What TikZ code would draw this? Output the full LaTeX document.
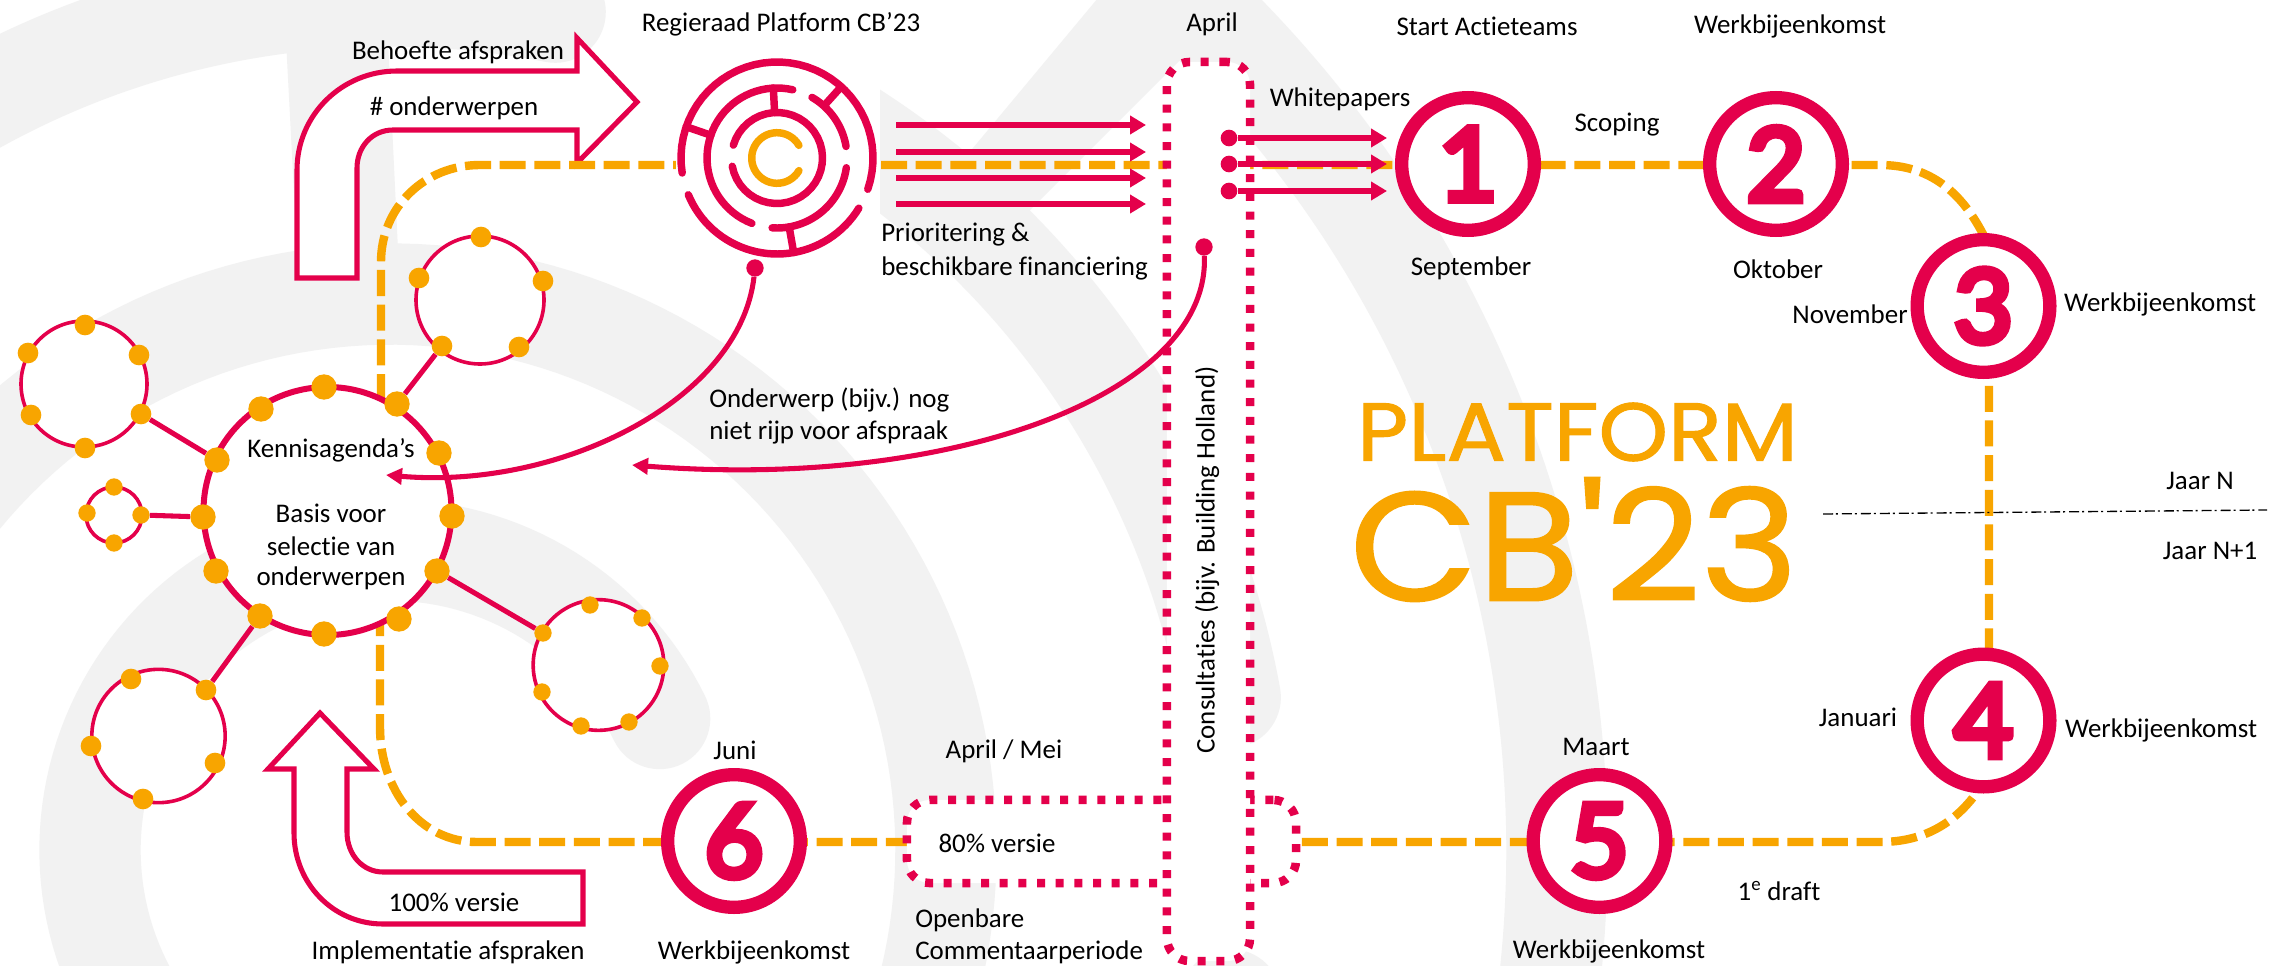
\documentclass[tikz,border=0pt]{standalone}
\usepackage{fontspec}
\setmainfont{Carlito}[Ligatures=NoCommon]
\newfontfamily\logofont[FakeBold=1.2]{Poppins}
\newfontfamily\numfont[FakeBold=7]{Lato}
\usetikzlibrary{arrows.meta}
\definecolor{cbred}{HTML}{E4004B}
\definecolor{cborange}{HTML}{F8A500}
\definecolor{cbgray}{HTML}{F2F2F2}
\newcommand{\bandarc}[3]{\draw[#3] plot[domain=#1,samples=90] ({390+#2*cos(\x)},{850-#2*sin(\x)});}
\newcommand{\mazearc}[3]{\draw[mazeline] plot[domain=#1:#2,samples=40] ({777+#3*cos(\x)},{158-#3*sin(\x)});}
\newcommand{\mazespoke}[3]{\draw[mazeline] ({777+#2*cos(#1)},{158-#2*sin(#1)}) -- ({777+#3*cos(#1)},{158-#3*sin(#1)});}
\tikzset{
  x=0.75pt,y=-0.75pt,
  band/.style={draw=cbgray,line width=76pt},
  mazeline/.style={draw=cbred,line width=5.6pt,line cap=round},
  orangeline/.style={draw=cborange,line width=6.3pt,dash pattern=on 19.5pt off 6.5pt},
  lbl/.style={inner sep=0pt,font=\fontsize{20.2}{24}\selectfont},
  arrowbox/.style={draw=cbred,fill=white,line width=3.8pt,miter limit=10},
  stepring/.style={circle,draw=cbred,fill=white,line width=10pt,minimum size=99.5pt,inner sep=0pt,text=cbred,font=\numfont\fontsize{76}{76}\selectfont},
  hubring/.style={circle,draw=cbred,fill=white,line width=4.5pt,inner sep=0pt},
  subring/.style={circle,draw=cbred,fill=white,line width=2.7pt,inner sep=0pt},
  dotL/.style={circle,fill=cborange,inner sep=0pt,minimum size=19pt},
  dotM/.style={circle,fill=cborange,inner sep=0pt,minimum size=15.5pt},
  dotS/.style={circle,fill=cborange,inner sep=0pt,minimum size=13pt},
  pin/.style={circle,fill=cbred,inner sep=0pt,minimum size=13pt},
  spoke/.style={draw=cbred,line width=3.8pt},
  dotbox/.style={draw=cbred,fill=white,line width=6.4pt,dash pattern=on 6pt off 8pt,rounded corners=17pt,inner sep=0pt},
  redarrow/.style={draw=cbred,line width=3.8pt,-{Triangle[length=12pt,width=13.5pt]}},
  curvearrow/.style={draw=cbred,line width=3.8pt,-{Triangle[length=12pt,width=12pt]}},
}
\begin{document}
\begin{tikzpicture}
\path[use as bounding box,clip] (0,0) rectangle (2287,966);
\fill[white] (0,0) rectangle (2287,966);

% watermark bands
\bandarc{26:215}{300}{band,line cap=round}
\bandarc{150:-14}{556}{band}
\bandarc{78.85:125}{854}{band,line cap=round}
\begin{scope}
  \clip (880,0) rectangle (2287,966);
  \bandarc{60:10.3}{854}{band,line cap=round}
  \fill[cbgray] (933,196) -- (1113,-20) -- (1235,-20) -- (1217,23) -- (991,249) -- cycle;
\end{scope}
\bandarc{-10.1:-25}{854}{band,line cap=round}
\bandarc{48:-12}{1167}{band}
\fill[cbgray] (286,40) -- (388,40) -- (398,250) -- (297,250) -- cycle;

% big arrows
\draw[arrowbox] (297,278) -- (297,170) .. controls (297,115) and (342,71) .. (397,71) -- (577,71) -- (577,38) -- (637,102) -- (577,163) -- (577,130) -- (393,130) .. controls (372,130) and (357,147) .. (357,168) -- (357,278) -- cycle;
\draw[arrowbox] (320,713) -- (374,769) -- (347,769) -- (347,832) .. controls (347,855) and (363,872) .. (383,872) -- (583,872) -- (583,924) -- (383,924) .. controls (333,924) and (294,883) .. (294,833) -- (294,769) -- (268,769) -- cycle;

% the orange route
\coordinate (r0) at (381,400);
\coordinate (r1) at (381,262);
\coordinate (r2) at (480,165);
\coordinate (r3) at (1880,165);
\coordinate (r4) at (1985,238);
\coordinate (r5) at (1989,300);
\coordinate (r6) at (1989,700);
\coordinate (r7) at (1985,780);
\coordinate (r8) at (1880,842);
\coordinate (r9) at (477,842);
\coordinate (r10) at (380,727);
\coordinate (r11) at (380,625);
\draw[orangeline] (r0) -- (r1) .. controls (381,207) and (425,165) .. (r2) -- (r3) .. controls (1930,165) and (1962,192) .. (r4) -- (r5) -- (r6) -- (r7) .. controls (1960,822) and (1925,842) .. (r8) -- (r9) .. controls (420,842) and (380,790) .. (r10) -- (r11);

% regieraad logo
\fill[white] (676,85) rectangle (880,270);
\mazearc{190.5}{523.5}{45.5}
\mazearc{77}{249}{70}
\mazearc{60}{9.5}{70}
\mazearc{-8}{-94}{70}
\mazearc{189}{-19}{96}
\mazearc{202.5}{328.5}{96}
\draw[mazeline,draw=cborange] plot[domain=30:330,samples=40] ({777+25.3*cos(\x)},{158-25.3*sin(\x)});
\mazespoke{161}{70}{96}
\mazespoke{48}{72}{96}
\mazespoke{93}{45.5}{70}
\mazespoke{-80}{70}{96}

% dotted boxes
\node[dotbox,minimum width=291.8pt,minimum height=62.3pt] (concept) at (1101.5,841.5) {};
\node[dotbox,minimum width=62.3pt,minimum height=674.3pt] (consult) at (1208.5,511.5) {};
\node[lbl,rotate=90] (consulttxt) at (1207,560) {Consultaties (bijv. Building Holland)};
\node[lbl] (t80) at (997,843) {80\% versie};

% steps
\node[stepring] (s1) at (1468,164) {1};
\node[stepring] (s2) at (1776,164) {2};
\node[stepring] (s3) at (1983.5,306) {3};
\node[stepring] (s4) at (1983.5,720.5) {4};
\node[stepring] (s5) at (1599.5,841) {5};
\node[stepring] (s6) at (734,841) {6};

% satellite rings
\node[subring,minimum size=94.5pt] (ringA) at (84,384) {};
\node[subring,minimum size=42pt] (ringB) at (114,515) {};
\node[subring,minimum size=96pt] (ringC) at (480,300) {};
\node[subring,minimum size=100pt] (ringD) at (158.5,736) {};
\node[subring,minimum size=98pt] (ringE) at (598.5,665) {};
\node[hubring,minimum size=186pt] (hub) at (327.5,511) {};

% hub dots
\node[dotL] (h1) at (261,409) {};
\node[dotL] (h2) at (324,387) {};
\node[dotL] (h3) at (397,404) {};
\node[dotL] (h4) at (439,453) {};
\node[dotL] (h5) at (452,516) {};
\node[dotL] (h6) at (437,571) {};
\node[dotL] (h7) at (399,619) {};
\node[dotL] (h8) at (324,634) {};
\node[dotL] (h9) at (260,616) {};
\node[dotL] (h10) at (216,571) {};
\node[dotL] (h11) at (203,517) {};
\node[dotL] (h12) at (217,460) {};

% ring dots
\node[dotM] (a1) at (85,325) {};
\node[dotM] (a2) at (139,355) {};
\node[dotM] (a3) at (141,414) {};
\node[dotM] (a4) at (85,448) {};
\node[dotM] (a5) at (31,415) {};
\node[dotM] (a6) at (28,353) {};
\node[dotS] (b1) at (114,487) {};
\node[dotS] (b2) at (141,515) {};
\node[dotS] (b3) at (114,543) {};
\node[dotS] (b4) at (87,513) {};
\node[dotM] (c1) at (481,237) {};
\node[dotM] (c2) at (543,281) {};
\node[dotM] (c3) at (519,347) {};
\node[dotM] (c4) at (442,346) {};
\node[dotM] (c5) at (419,278) {};
\node[dotM] (d1) at (131,679) {};
\node[dotM] (d2) at (206,690) {};
\node[dotM] (d3) at (91,746) {};
\node[dotM] (d4) at (215,763) {};
\node[dotM] (d5) at (143,799) {};
\node[dotS] (e1) at (543,633) {};
\node[dotS] (e2) at (590,605) {};
\node[dotS] (e3) at (642,618) {};
\node[dotS] (e4) at (660,666) {};
\node[dotS] (e5) at (629,722) {};
\node[dotS] (e6) at (581,726) {};
\node[dotS] (e7) at (542,692) {};

% ring connectors
\draw[spoke] (a3) -- (h12);
\draw[spoke] (b2) -- (h11);
\draw[spoke] (c4) -- (h3);
\draw[spoke] (d2) -- (h9);
\draw[spoke] (e1) -- (h6);

% straight red arrows
\foreach \n/\yy in {1/125,2/152,3/178,4/204}{
  \coordinate (la\n) at (896,\yy);
  \coordinate (lb\n) at (1146,\yy);
  \draw[redarrow] (la\n) -- (lb\n);
}
\node[pin,minimum size=12.5pt] (p1) at (1229,138) {};
\node[pin,minimum size=12.5pt] (p2) at (1229,164) {};
\node[pin,minimum size=12.5pt] (p3) at (1229,191) {};
\foreach \n/\yy in {1/138,2/164,3/191}{
  \coordinate (rb\n) at (1387,\yy);
  \draw[redarrow] (p\n) -- (rb\n);
}

% curved arrows
\node[pin] (p4) at (755,268) {};
\node[pin] (p5) at (1204,247) {};
\coordinate (tip4) at (386,475);
\coordinate (tip5) at (632,465);
\draw[curvearrow] (p4) .. controls (740,400) and (560,490) .. (tip4);
\draw[curvearrow] (p5) .. controls (1210,395) and (950,490) .. (tip5);

% logo
\node[inner sep=0pt,text=cborange] (logo1) at (1577.5,432) {\resizebox{330.7pt}{43.5pt}{\logofont PLATFORM}};
\node[inner sep=0pt,text=cborange] (logo2) at (1574,539.5) {\resizebox{336pt}{92.2pt}{\logofont CB'23}};

% labels
\node[lbl] (t1) at (781,24) {Regieraad Platform CB’23};
\node[lbl] (t2) at (458,52) {Behoefte afspraken};
\node[lbl] (t3) at (454,108) {\# onderwerpen};
\node[lbl] (t4) at (1212,24) {April};
\node[lbl] (t5) at (1487,26) {Start Actieteams};
\node[lbl] (t6) at (1790,26) {Werkbijeenkomst};
\node[lbl] (t7) at (1340,99) {Whitepapers};
\node[lbl] (t8) at (1617,125) {Scoping};
\node[lbl] (t9) at (1471,268) {September};
\node[lbl] (t10) at (1778,269) {Oktober};
\node[lbl] (t11) at (1850,314) {November};
\node[lbl] (t12) at (2160,304) {Werkbijeenkomst};
\node[lbl] (t13) at (2200,481) {Jaar N};
\node[lbl] (t14) at (2210,551) {Jaar N+1};
\node[lbl] (t15) at (1858,717) {Januari};
\node[lbl] (t16) at (2161,730) {Werkbijeenkomst};
\node[lbl] (t17) at (1596,747) {Maart};
\node[lbl] (t18) at (1779,891) {1\textsuperscript{e} draft};
\node[lbl] (t19) at (1609,951) {Werkbijeenkomst};
\node[lbl] (t20) at (735,750) {Juni};
\node[lbl] (t21) at (754,952) {Werkbijeenkomst};
\node[lbl] (t22) at (448,952) {Implementatie afspraken};
\node[lbl] (t23) at (454,902) {100\% versie};
\node[lbl] (t24) at (1004,751) {April / Mei};
\node[lbl,anchor=west] (t25) at (915,920) {Openbare};
\node[lbl,anchor=west] (t26) at (915,952) {Commentaarperiode};
\node[lbl,anchor=west] (t27) at (881,235) {Prioritering \&};
\node[lbl,anchor=west] (t28) at (881,268) {beschikbare financiering};
\node[lbl,anchor=west] (t29) at (709,400) {Onderwerp (bijv.) nog};
\node[lbl,anchor=west] (t30) at (709,432) {niet rijp voor afspraak};
\node[lbl] (t31) at (331,450) {Kennisagenda’s};
\node[lbl] (t32) at (331,513) {Basis voor};
\node[lbl] (t33) at (331,546) {selectie van};
\node[lbl] (t34) at (331,578) {onderwerpen};

% year divider
\coordinate (y1) at (1823,514);
\coordinate (y2) at (2267,510);
\draw[black,line width=1pt,dash pattern=on 7.5pt off 2.2pt on 1.5pt off 3pt] (y1) -- (y2);
\end{tikzpicture}
\end{document}
